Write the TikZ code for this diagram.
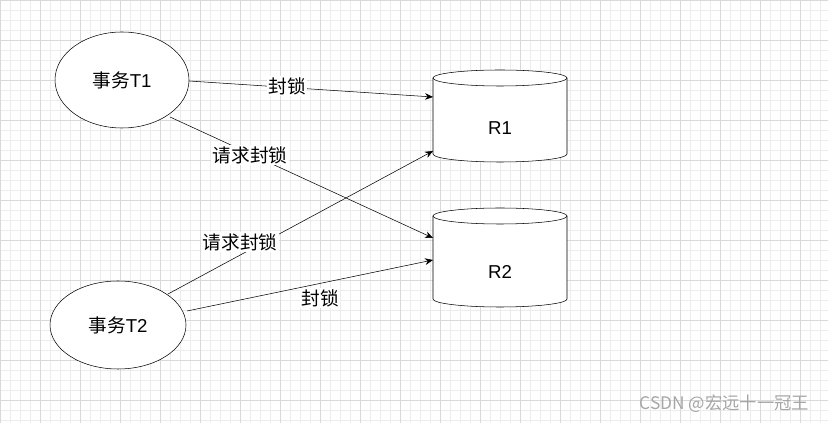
\documentclass[tikz,border=0pt]{standalone}
\usepackage{fontspec}
\setmainfont{Liberation Sans}
\newfontfamily\cjk{Noto Sans CJK SC}
\usetikzlibrary{arrows.meta,shapes.geometric}
\begin{document}
\begin{tikzpicture}[x=0.75pt,y=-0.75pt,
  txn/.style={draw,ellipse,minimum width=134*0.75pt,minimum height=96*0.75pt,inner sep=0pt,font=\fontsize{14}{16}\selectfont},
  lab/.style={fill=white,inner sep=1pt,font=\cjk\fontsize{14}{16}\selectfont},
  arr/.style={-{Stealth[length=6pt,width=5pt]},thin}]
\useasboundingbox (0,0) rectangle (828,423);
\fill[white] (0,0) rectangle (828,423);
\draw[gray!15,step=7.5pt] (0,0) grid (828,423);
\draw[gray!30,step=30pt] (0,0) grid (828,423);
% transactions
\node[txn,fill=white] (t1) at (122,80) {{\cjk 事务}T1};
\node[txn,fill=white,minimum height=88*0.75pt,minimum width=136*0.75pt] (t2) at (118,325) {{\cjk 事务}T2};
% cylinders
\foreach \top/\bot in {78/154,216/299}{
  \fill[white] (433,\top) -- (433,\bot) arc[start angle=180,end angle=360,x radius=67,y radius=-8] -- (567,\top) -- cycle;
  \draw (433,\top) -- (433,\bot) arc[start angle=180,end angle=360,x radius=67,y radius=-8] -- (567,\top);
  \draw[fill=white] (500,\top) ellipse[x radius=67,y radius=8];
}
\node[font=\fontsize{14}{16}\selectfont] (r1) at (500,128) {R1};
\node[font=\fontsize{14}{16}\selectfont] (r2) at (500,272) {R2};
\coordinate (r1a) at (433,97);
\coordinate (r1b) at (433,151);
\coordinate (r2a) at (433,238);
\coordinate (r2b) at (433,260);
\coordinate (t1a) at (189,81);
\coordinate (t1b) at (170,117);
\coordinate (t2a) at (168,294);
\coordinate (t2b) at (187,311);
\draw[arr] (t1a) -- (r1a);
\draw[arr] (t1b) -- (r2a);
\draw[arr] (t2a) -- (r1b);
\draw[arr] (t2b) -- (r2b);
\node[lab] (l1) at (287,86) {封锁};
\node[lab] (l2) at (250,155) {请求封锁};
\node[lab] (l3) at (240,242) {请求封锁};
\node[lab] (l4) at (320,298) {封锁};
\node[anchor=east,text=gray!70,font=\cjk\fontsize{13}{15}\selectfont] (wm) at (814,404) {CSDN @宏远十一冠王};
\end{tikzpicture}
\end{document}
